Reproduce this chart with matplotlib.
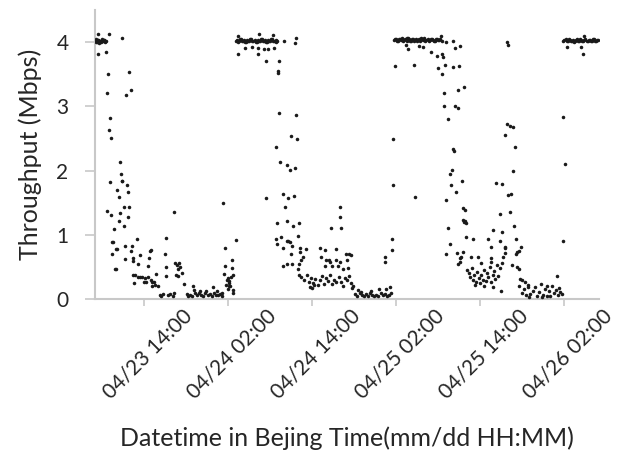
import numpy as np
import matplotlib.pyplot as plt
from matplotlib.transforms import ScaledTranslation

plt.rcParams['font.family'] = ['Lato', 'DejaVu Sans']

# x = hours on the chart axis, y = throughput in Mbps
# --- first plateau and first decline ---
day1_hours = [1.1, 1.3, 1.5, 1.7, 1.9, 2.1, 2.3, 2.5, 1.2, 1.6, 2.0, 2.4,
              1.47, 3.04, 1.47, 2.57, 4.9, 2.9, 2.76, 5.9, 6.1, 5.5, 3.14, 3.0,
              3.29, 4.57, 4.71, 3.24, 4.85, 4.95, 5.6, 4.24, 4.43, 5.76, 2.76,
              3.38, 4.57, 5.14, 5.9, 5.76, 4.48, 3.67, 5.19, 3.45, 3.55, 3.5,
              4.05, 4.2, 5.38, 6.29, 7.0, 3.95, 4.05, 5.38, 6.14, 6.47, 7.43,
              6.4, 7.19, 6.5, 6.7, 6.6, 7.2, 7.4, 7.7, 8.1, 8.0, 8.3, 8.6, 8.6,
              8.76, 8.95, 9.05, 9.0, 9.2, 9.4, 9.1, 9.57, 9.8, 10.05, 10.3, 10.5,
              10.7, 11.0, 11.2, 11.1, 11.1, 11.5, 11.8, 12.1, 12.3, 12.3, 12.5,
              12.7, 13.0, 13.1, 12.9, 12.6, 12.9, 13.4, 13.76, 14.1, 14.3, 15.05,
              14.6, 14.9, 15.3, 15.6, 15.9, 16.2, 16.5, 16.8, 17.1, 17.4, 17.7,
              18.0, 18.3, 18.6, 18.9, 19.2, 15.2, 16.0, 17.9, 16.9, 18.5, 19.1,
              19.33, 19.57, 19.57, 19.5, 19.9, 20.0, 20.1, 20.2, 20.4, 20.3, 20.1,
              19.8, 20.0, 20.7, 20.6, 20.8, 20.75, 21.1, 20.6]
day1_mbps = [4.02, 4.00, 4.03, 4.01, 4.00, 4.02, 4.03, 4.00, 4.04, 3.99, 4.04, 4.01,
             4.12, 4.12, 3.81, 3.85, 4.06, 3.50, 3.21, 3.53, 3.25, 3.18, 2.81, 2.63,
             2.50, 2.14, 1.95, 1.82, 1.83, 1.84, 1.77, 1.70, 1.59, 1.66, 1.37,
             1.30, 1.34, 1.44, 1.44, 1.27, 1.21, 1.09, 1.13, 0.88, 0.89, 0.70,
             0.78, 0.78, 0.82, 0.83, 0.93, 0.47, 0.46, 0.62, 0.74, 0.64, 0.69,
             0.59, 0.55, 0.38, 0.38, 0.25, 0.35, 0.34, 0.35, 0.33, 0.27, 0.26, 0.35, 0.51,
             0.64, 0.74, 0.76, 0.30, 0.26, 0.27, 0.20, 0.22, 0.39, 0.20, 0.07, 0.05,
             0.08, 0.70, 0.95, 0.50, 0.36, 0.06, 0.08, 0.05, 0.09, 1.36, 0.56,
             0.53, 0.56, 0.50, 0.46, 0.37, 0.36, 0.40, 0.24, 0.08, 0.05, 0.20,
             0.07, 0.05, 0.09, 0.06, 0.10, 0.07, 0.05, 0.09, 0.06, 0.08, 0.05,
             0.10, 0.07, 0.06, 0.08, 0.05, 0.14, 0.13, 0.18, 0.12, 0.13, 0.10,
             1.49, 0.79, 0.51, 0.39, 0.30, 0.33, 0.28, 0.25, 0.35, 0.20, 0.20,
             0.22, 0.15, 0.38, 0.61, 0.14, 0.10, 0.92, 0.48]

# --- second plateau and second decline ---
day2_hours = [21.1, 21.4, 21.7, 22.0, 22.3, 22.6, 22.9, 23.2, 23.5, 23.8, 24.1,
              24.4, 24.7, 25.0, 25.3, 25.6, 25.9, 26.2, 26.5, 26.8, 27.0,
              21.4, 24.5, 26.5, 28.0, 29.7, 29.6, 22.4, 23.5, 24.3, 25.1, 25.7,
              26.6, 21.5, 24.3, 25.4, 27.3, 27.2, 27.2, 27.3, 29.7, 29.0, 29.9,
              26.8, 27.5, 28.4, 28.9, 29.6, 25.5, 27.9, 28.6, 29.4, 28.1, 36.0,
              36.0, 27.0, 28.5, 29.3, 30.1, 34.7, 36.1, 30.0, 26.9, 27.0, 27.6,
              27.8, 28.4, 28.6, 28.8, 29.2, 30.3, 31.1, 29.0, 30.3, 33.1, 33.9,
              35.4, 30.7, 30.4, 30.2, 30.0, 30.1, 27.9, 28.4, 29.1, 33.3, 34.0,
              34.4, 34.6, 35.4, 36.0, 37.0, 36.8, 37.3, 37.6, 33.8, 34.9, 35.7,
              36.4, 37.1,
              30.5, 30.9, 31.3, 31.6, 31.9, 32.2, 32.5, 32.8, 33.1, 33.4, 33.7,
              34.0, 34.3, 34.6, 34.9, 35.2, 35.5, 35.8, 36.1, 36.4, 36.7, 37.0,
              37.3, 37.6, 31.7, 32.0, 32.3, 37.7, 37.9,
              38.2, 38.5, 38.8, 39.1, 39.4, 39.7, 40.0, 40.3, 40.6, 40.9, 41.2,
              41.5, 41.8, 42.1, 42.4, 42.7, 43.0, 43.3, 38.6, 40.4, 41.6, 42.6,
              43.2, 39.0, 42.4, 42.4, 43.5, 43.5, 43.6, 43.6, 43.9, 46.6, 46.7]
day2_mbps = [4.02, 4.00, 4.04, 4.01, 4.03, 4.00, 4.02, 4.04, 4.01, 4.03, 4.00,
             4.02, 4.04, 4.01, 4.03, 4.00, 4.02, 4.04, 4.01, 4.03, 4.02,
             4.10, 4.12, 4.11, 4.02, 4.07, 3.99, 3.91, 3.92, 3.90, 3.89, 3.89,
             3.90, 3.82, 3.82, 3.71, 3.70, 3.55, 3.52, 2.89, 2.87, 2.54, 2.49,
             2.36, 2.14, 2.09, 2.01, 2.04, 1.58, 1.63, 1.57, 1.61, 1.44, 1.44,
             1.27, 1.19, 1.21, 1.13, 1.18, 1.10, 1.10, 0.98, 0.94, 0.85, 0.96,
             0.79, 0.90, 0.91, 0.89, 0.83, 0.79, 0.78, 0.70, 0.73, 0.79, 0.77,
             0.78, 0.65, 0.60, 0.54, 0.47, 0.38, 0.51, 0.55, 0.55, 0.66, 0.61,
             0.60, 0.57, 0.61, 0.58, 0.61, 0.70, 0.70, 0.69, 0.51, 0.52, 0.51,
             0.47, 0.48,
             0.35, 0.30, 0.38, 0.27, 0.33, 0.25, 0.31, 0.22, 0.29, 0.36, 0.24,
             0.32, 0.28, 0.37, 0.23, 0.30, 0.26, 0.34, 0.27, 0.21, 0.33, 0.29,
             0.36, 0.25, 0.18, 0.17, 0.22, 0.17, 0.20,
             0.08, 0.05, 0.09, 0.06, 0.04, 0.08, 0.05, 0.09, 0.06, 0.04, 0.07,
             0.05, 0.09, 0.06, 0.08, 0.05, 0.07, 0.10, 0.14, 0.12, 0.15, 0.16,
             0.18, 0.11, 0.65, 0.58, 0.93, 0.76, 1.78, 2.49, 3.63, 3.64, 1.59]

# --- third plateau and third decline ---
day3_hours = [43.7, 44.0, 44.3, 44.6, 44.9, 45.2, 45.5, 45.8, 46.1, 46.4, 46.7,
              47.0, 47.3, 47.6, 47.9, 48.2, 48.5, 48.8, 49.1, 49.4, 49.7, 50.0,
              50.3, 50.5, 50.4, 51.1, 52.1, 45.4, 45.7, 47.3, 45.5,
              47.9, 49.0, 49.9, 50.5, 50.7, 52.4, 53.1, 50.0, 50.6, 51.0, 52.1,
              53.0, 50.9, 52.9, 53.7, 50.9, 52.4, 52.9, 51.4, 59.9, 60.0, 59.9,
              60.3, 60.7, 59.6, 61.0, 52.2, 52.25, 52.0, 51.7, 51.8, 53.4, 52.6,
              60.7, 58.3, 59.1, 60.0, 60.4, 51.2, 53.6, 53.9, 53.5, 53.9, 54.0,
              53.7, 58.9, 60.3, 51.4, 57.8, 59.2, 60.9, 54.0, 55.0, 57.1, 58.9,
              61.1, 51.7, 57.5, 59.5, 59.6, 61.9, 51.2, 52.7, 53.5, 53.2, 53.3,
              52.8, 53.1, 54.7, 55.7, 56.1, 57.5, 59.3, 59.5, 61.3, 61.2, 61.6,
              57.6, 59.1, 60.6, 61.3, 61.6,
              54.1, 54.4, 54.6, 54.8, 55.0, 55.2, 55.4, 55.6, 55.8, 56.0, 56.2,
              56.4, 56.6, 56.8, 57.0, 57.2, 57.4, 57.6, 57.8, 58.0, 58.2, 58.4,
              58.6, 58.8, 55.3, 56.5, 57.9, 59.0, 61.7, 62.0, 62.4, 61.5,
              62.0, 62.3, 62.6, 62.9, 63.2, 63.5, 63.8, 64.1, 64.4, 64.7, 65.0,
              65.3, 65.6, 65.9, 66.2, 66.5, 66.8, 67.1, 67.4, 67.7, 63.0, 64.9,
              66.0, 62.8, 65.5, 67.3, 67.0, 67.8, 67.9, 68.1]
day3_mbps = [4.03, 4.05, 4.02, 4.04, 4.06, 4.03, 4.01, 4.04, 4.02, 4.05, 4.03,
             4.01, 4.04, 4.06, 4.03, 4.02, 4.05, 4.03, 4.04, 4.02, 4.05, 4.03,
             4.04, 4.02, 4.10, 4.00, 4.02, 3.95, 3.89, 3.94, 4.07,
             3.93, 3.85, 3.78, 3.81, 3.76, 3.90, 3.94, 3.59, 3.50, 3.65, 3.61,
             3.63, 3.21, 3.25, 3.30, 3.01, 3.00, 2.97, 2.80, 4.00, 3.95, 2.73,
             2.70, 2.68, 2.56, 2.36, 2.34, 2.31, 2.01, 1.95, 1.77, 1.83, 1.66,
             1.99, 1.81, 1.79, 1.62, 1.64, 1.54, 1.41, 1.39, 1.23, 1.22, 1.18,
             1.20, 1.32, 1.36, 1.10, 1.07, 1.04, 1.14, 0.96, 0.93, 0.93, 0.91,
             0.93, 0.85, 0.81, 0.81, 0.79, 0.81, 0.70, 0.71, 0.73, 0.64, 0.65,
             0.55, 0.57, 0.65, 0.65, 0.56, 0.64, 0.66, 0.71, 0.73, 0.70, 0.74,
             0.58, 0.56, 0.53, 0.50, 0.46,
             0.45, 0.40, 0.35, 0.48, 0.30, 0.38, 0.27, 0.42, 0.33, 0.25, 0.37,
             0.30, 0.45, 0.28, 0.40, 0.34, 0.50, 0.26, 0.38, 0.44, 0.31, 0.53,
             0.36, 0.48, 0.22, 0.20, 0.18, 0.13, 0.31, 0.29, 0.27, 0.21,
             0.10, 0.15, 0.06, 0.22, 0.08, 0.13, 0.18, 0.05, 0.11, 0.24, 0.07,
             0.16, 0.04, 0.12, 0.20, 0.09, 0.14, 0.06, 0.11, 0.08, 0.03, 0.03,
             0.05, 0.19, 0.20, 0.17, 0.36, 0.90, 2.84, 2.10]

# --- last plateau ---
day4_hours = [67.9, 68.2, 68.5, 68.8, 69.1, 69.4, 69.7, 70.0, 70.3, 70.6, 70.9,
              71.2, 71.5, 71.8, 72.1, 72.4, 72.7, 68.4, 70.4, 70.7, 70.9]
day4_mbps = [4.02, 4.04, 4.01, 4.03, 4.02, 4.00, 4.03, 4.01, 4.04, 4.02, 4.03,
             4.01, 4.03, 4.02, 4.04, 4.01, 4.03, 3.92, 3.92, 3.81, 4.10]

# extra samples inside the dense 4 Mbps bands
band_hours = [1.15, 1.45, 1.75, 2.05, 2.35, 2.6,
              21.25, 21.55, 21.85, 22.15, 22.45, 22.75, 23.05, 23.35, 23.65,
              23.95, 24.25, 24.55, 24.85, 25.15, 25.45, 25.75, 26.05, 26.35,
              26.65, 26.9,
              43.85, 44.15, 44.45, 44.75, 45.05, 45.35, 45.65, 45.95, 46.25,
              46.55, 46.85, 47.15, 47.45, 47.75, 48.05, 48.35, 48.65, 48.95,
              49.25, 49.55, 49.85, 50.15,
              68.05, 68.35, 68.65, 68.95, 69.25, 69.55, 69.85, 70.15, 70.45,
              70.75, 71.05, 71.35, 71.65, 71.95, 72.25, 72.55, 72.8]
band_mbps = [4.00, 4.03, 4.02, 4.01, 4.03, 4.02,
             4.03, 4.01, 4.04, 4.02, 4.00, 4.03, 4.01, 4.04, 4.02,
             4.00, 4.03, 4.01, 4.04, 4.02, 4.00, 4.03, 4.01, 4.04,
             4.02, 4.00,
             4.04, 4.02, 4.05, 4.03, 4.01, 4.04, 4.06, 4.02, 4.04,
             4.01, 4.05, 4.03, 4.02, 4.04, 4.06, 4.03, 4.01, 4.05,
             4.03, 4.02, 4.04, 4.03,
             4.03, 4.02, 4.04, 4.01, 4.03, 4.02, 4.04, 4.01, 4.03,
             4.02, 4.04, 4.01, 4.03, 4.02, 4.04, 4.02, 4.03]

tick_hours = [8, 20, 32, 44, 56, 68]
tick_labels = ['04/23 14:00', '04/24 02:00', '04/24 14:00',
               '04/25 02:00', '04/25 14:00', '04/26 02:00']

hours = day1_hours + day2_hours + day3_hours + day4_hours + band_hours
mbps = day1_mbps + day2_mbps + day3_mbps + day4_mbps + band_mbps

fig = plt.figure(figsize=(6.32, 4.51), dpi=100)
ax = fig.add_axes([0.150, 0.337, 0.798, 0.641])

ax.scatter(hours, mbps, s=6.5, color='#1a1a1a', linewidths=0, zorder=3)

ax.set_xlim(1, 73)
ax.set_ylim(0, 4.5)
ax.set_yticks([0, 1, 2, 3, 4])
ax.set_xticks(tick_hours)

ax.tick_params(axis='y', labelsize=15, labelcolor='#262626', length=7, width=1.2,
               color='#c8c8c8', pad=12)
ax.tick_params(axis='x', length=5, width=1.2, color='#c8c8c8')

ax.set_xticklabels(tick_labels, rotation=45, ha='right', va='center',
                   rotation_mode='anchor', fontsize=15, color='#262626')

# labels sit half way between the tick marks
shift = ScaledTranslation(0.45, -0.02, fig.dpi_scale_trans)
for lab in ax.get_xticklabels():
    lab.set_transform(lab.get_transform() + shift)

for side in ['top', 'right']:
    ax.spines[side].set_visible(False)
for side in ['left', 'bottom']:
    ax.spines[side].set_color('#c8c8c8')
    ax.spines[side].set_linewidth(1.5)

ax.set_ylabel('Throughput (Mbps)', fontsize=18, color='#262626', labelpad=10)
ax.set_xlabel('Datetime in Bejing Time(mm/dd HH:MM)', fontsize=18, color='#262626')
ax.xaxis.set_label_coords(0.5, -0.44)

fig.savefig('out.png', dpi=100)
